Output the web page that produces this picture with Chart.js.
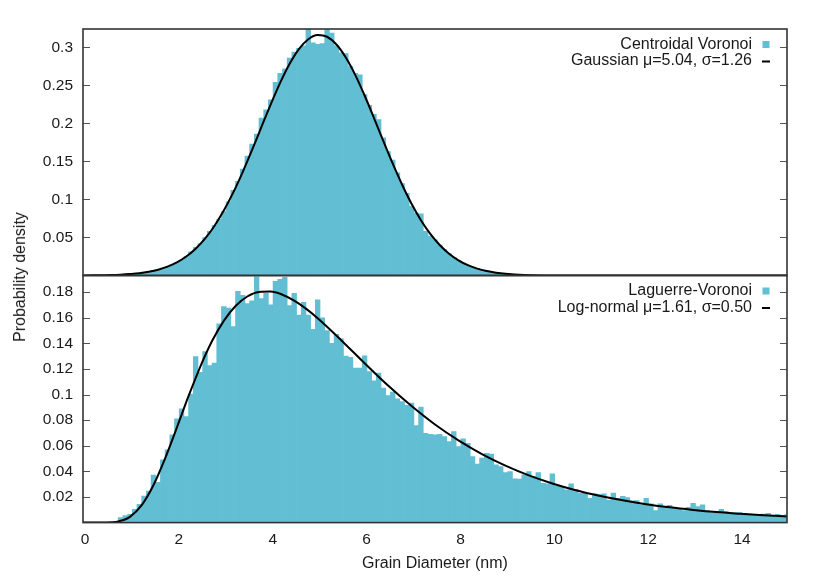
<!DOCTYPE html>
<html>
<head>
<meta charset="utf-8">
<script src="https://cdn.jsdelivr.net/npm/chart.js@4.4.1/dist/chart.umd.min.js"></script>
<style>
  body { margin: 0; background: #fff; }
  #wrap { position: relative; width: 830px; height: 581px; }
  canvas { position: absolute; left: 0; top: 0; }
  #ytitle {
    position: absolute; left: 20px; top: 277px;
    transform: translate(-50%, -50%) rotate(-90deg);
    font: 16px "Liberation Sans", Arial, sans-serif; color: #1a1a1a; white-space: nowrap;
  }
</style>
</head>
<body>
<div id="wrap">
  <canvas id="topChart" width="830" height="581"></canvas>
  <canvas id="bottomChart" width="830" height="581"></canvas>
  <div id="ytitle">Probability density</div>
</div>
<script>
// histogram bins are 0.1 nm wide, first bin centred on 0
const binWidth = 0.1;

// Centroidal Voronoi histogram, bins 0.0 .. 10.0
const centroidalHist = [
  0, 0, 0, 0, 0, 0.0003, 0.0004, 0.0005, 0.0008, 0.001, 0.0015,
  0.002, 0.003, 0.004, 0.005, 0.006, 0.007, 0.009, 0.011, 0.014, 0.017,
  0.020, 0.025, 0.031, 0.037, 0.042, 0.050, 0.058, 0.066, 0.074, 0.084,
  0.097, 0.112, 0.124, 0.140, 0.157, 0.173, 0.186, 0.207, 0.218, 0.231,
  0.254, 0.266, 0.272, 0.286, 0.294, 0.299, 0.302, 0.335, 0.306, 0.304,
  0.305, 0.334, 0.319, 0.302, 0.293, 0.292, 0.275, 0.266, 0.264, 0.238,
  0.224, 0.212, 0.205, 0.181, 0.163, 0.152, 0.135, 0.121, 0.108, 0.091,
  0.082, 0.081, 0.058, 0.052, 0.047, 0.040, 0.034, 0.029, 0.024, 0.020,
  0.0165, 0.0135, 0.011, 0.009, 0.007, 0.006, 0.0045, 0.0035, 0.003, 0.002,
  0.0018, 0.0014, 0.001, 0.0008, 0.0006, 0.0005, 0.0003, 0.0002, 0.0001, 0
];

// Laguerre-Voronoi histogram, bins 0.0 .. 15.0
const laguerreHist = [
  0, 0, 0, 0, 0, 0, 0.0005, 0.001, 0.004, 0.0054, 0.0065,
  0.0104, 0.0143, 0.0208, 0.0247, 0.0372, 0.0315, 0.049, 0.0568, 0.0685, 0.081,
  0.0889, 0.0829, 0.1003, 0.1297, 0.1173, 0.1336, 0.1227, 0.1245, 0.1553, 0.1688,
  0.1675, 0.1532, 0.1806, 0.1775, 0.171, 0.1733, 0.195, 0.175, 0.179, 0.170,
  0.1884, 0.190, 0.1915, 0.1696, 0.179, 0.162, 0.172, 0.162, 0.151, 0.174,
  0.160, 0.150, 0.140, 0.147, 0.1436, 0.130, 0.129, 0.1206, 0.1206, 0.1303,
  0.118, 0.1107, 0.1167, 0.105, 0.0993, 0.1019, 0.0967, 0.0946, 0.0915, 0.0933,
  0.0758, 0.0902, 0.0698, 0.069, 0.0685, 0.069, 0.0672, 0.0633, 0.0711, 0.0594,
  0.0654, 0.062, 0.0516, 0.0458, 0.0503, 0.0542, 0.0536, 0.0451, 0.0438, 0.0391,
  0.0399, 0.0341, 0.0339, 0.0373, 0.0399, 0.036, 0.0391, 0.0307, 0.0302, 0.038,
  0.0286, 0.0276, 0.0255, 0.0302, 0.026, 0.0229, 0.0229, 0.019, 0.0224, 0.022,
  0.0225, 0.0175, 0.023, 0.019, 0.0205, 0.0195, 0.017, 0.0172, 0.0138, 0.019,
  0.0146, 0.0094, 0.0146, 0.0125, 0.0135, 0.012, 0.0104, 0.0094, 0.012, 0.0151,
  0.0125, 0.0138, 0.0094, 0.0078, 0.0086, 0.0104, 0.0086, 0.0078, 0.0078, 0.0078,
  0.0072, 0.0067, 0.0062, 0.0062, 0.0067, 0.0072, 0.0057, 0.0065, 0.0057, 0.0062
];

// fitted curves
const gaussX = [0, 0.2, 0.4, 0.6, 0.8, 1.0, 1.2, 1.4, 1.6, 1.8, 2.0, 2.2, 2.4, 2.6, 2.8, 3.0,
  3.2, 3.4, 3.6, 3.8, 4.0, 4.2, 4.4, 4.6, 4.8, 5.0, 5.2, 5.4, 5.6, 5.8, 6.0, 6.2, 6.4,
  6.6, 6.8, 7.0, 7.2, 7.4, 7.6, 7.8, 8.0, 8.2, 8.4, 8.6, 8.8, 9.0, 9.4, 10, 11, 15];
const gaussY = [0.0001, 0.0002, 0.0004, 0.0006, 0.0011, 0.0019, 0.0030, 0.0049, 0.0076, 0.0116,
  0.0172, 0.0250, 0.0353, 0.0485, 0.0652, 0.0854, 0.1090, 0.1357, 0.1648, 0.1951, 0.2252,
  0.2535, 0.2783, 0.2979, 0.3109, 0.3164, 0.3141, 0.3039, 0.2868, 0.2640, 0.2368, 0.2072,
  0.1768, 0.1471, 0.1194, 0.0944, 0.0728, 0.0548, 0.0402, 0.0287, 0.0200, 0.0136, 0.0090,
  0.0058, 0.0037, 0.0023, 0.0008, 0.0001, 0, 0];

const lognX = [0, 0.25, 0.5, 0.75, 1.0, 1.25, 1.5, 1.75, 2.0, 2.25, 2.5, 2.75, 3.0, 3.25, 3.5,
  3.75, 4.0, 4.25, 4.5, 4.75, 5.0, 5.5, 6.0, 6.5, 7.0, 7.5, 8.0, 8.5, 9.0, 9.5, 10.0, 10.5,
  11.0, 11.5, 12.0, 12.5, 13.0, 13.5, 14.0, 14.5, 15.0];
const lognY = [0, 0, 0.00004, 0.0008, 0.0045, 0.0136, 0.0292, 0.0502, 0.0742, 0.0989, 0.1219,
  0.1418, 0.1576, 0.1692, 0.1766, 0.1802, 0.1805, 0.1780, 0.1734, 0.1671, 0.1596, 0.1425,
  0.1245, 0.1070, 0.0910, 0.0766, 0.0642, 0.0535, 0.0445, 0.0369, 0.0306, 0.0253, 0.0210,
  0.0174, 0.0144, 0.0119, 0.0099, 0.0082, 0.0069, 0.0057, 0.0048];

const xTicks = [0, 2, 4, 6, 8, 10, 12, 14];
const barColor = 'rgb(98, 190, 210)';
const FAMILY = '"Liberation Sans", Arial, sans-serif';
const TICK_FONT = { family: FAMILY, size: 15.5 };
const TITLE_FONT = { family: FAMILY, size: 16 };

const toPoints = (xs, ys) => ys.map((y, i) => ({ x: xs[i], y: y }));
const toBins = (hist) => hist.map((y, i) => ({ x: +(i * binWidth).toFixed(1), y: y }));

// gnuplot-ish frame, inward mirrored y ticks and key on the right
const framePlugin = {
  id: 'frame',
  afterDraw(chart, args, opts) {
    const { ctx, chartArea: a, scales } = chart;
    ctx.save();
    ctx.strokeStyle = '#555';
    ctx.lineWidth = 1;
    ctx.beginPath();
    scales.y.ticks.forEach(t => {
      if (t.value === 0) return;
      const py = Math.round(scales.y.getPixelForValue(t.value)) + 0.5;
      ctx.moveTo(a.left, py); ctx.lineTo(a.left + 7, py);
      ctx.moveTo(a.right, py); ctx.lineTo(a.right - 7, py);
    });
    ctx.stroke();
    ctx.strokeStyle = '#333';
    ctx.lineWidth = 1.6;
    ctx.strokeRect(a.left, a.top, a.width, a.height);

    ctx.font = '16px ' + FAMILY;
    ctx.textAlign = 'right';
    ctx.textBaseline = 'middle';
    chart.data.datasets.forEach((ds, i) => {
      const y = opts.rows[i];
      ctx.fillStyle = '#1a1a1a';
      ctx.fillText(ds.label, 752, y);
      if (ds.type === 'line') {
        ctx.strokeStyle = '#000';
        ctx.lineWidth = 2;
        ctx.beginPath();
        ctx.moveTo(762, y + 0.5); ctx.lineTo(770, y + 0.5);
        ctx.stroke();
      } else {
        ctx.fillStyle = barColor;
        ctx.fillRect(762.5, y - 3.5, 7, 7);
      }
    });
    ctx.restore();
  }
};

function makeChart(id, bars, barLabel, curve, curveLabel, yMax, yStep, pad, showX, rows) {
  return new Chart(document.getElementById(id).getContext('2d'), {
    type: 'bar',
    data: {
      datasets: [
        {
          label: barLabel,
          data: bars,
          backgroundColor: barColor,
          borderWidth: 0,
          barPercentage: 1,
          categoryPercentage: 1,
          order: 1
        },
        {
          type: 'line',
          label: curveLabel,
          data: curve,
          borderColor: '#000',
          borderWidth: 2,
          pointRadius: 0,
          cubicInterpolationMode: 'monotone',
          order: 0
        }
      ]
    },
    options: {
      responsive: false,
      animation: false,
      layout: { padding: pad },
      plugins: {
        legend: { display: false },
        tooltip: { enabled: false },
        frame: { rows: rows }
      },
      scales: {
        x: {
          type: 'linear',
          display: showX,
          min: 0,
          max: 15,
          offset: false,
          grid: { display: false, drawTicks: false },
          border: { display: false },
          afterBuildTicks: (s) => { s.ticks = xTicks.map(v => ({ value: v })); },
          afterFit: (s) => { if (showX) s.height = 58.4; },
          ticks: { font: TICK_FONT, color: '#1a1a1a', padding: 8, labelOffset: 2, maxRotation: 0 },
          title: {
            display: showX,
            text: 'Grain Diameter (nm)',
            font: TITLE_FONT,
            color: '#1a1a1a',
            padding: { top: 0, bottom: 8 }
          }
        },
        y: {
          min: 0,
          max: yMax,
          grid: { display: false, drawTicks: false },
          border: { display: false },
          afterFit: (s) => { s.width = 83; },
          ticks: {
            stepSize: yStep,
            includeBounds: false,
            font: TICK_FONT,
            color: '#1a1a1a',
            padding: 10,
            callback: (v) => (v === 0 ? '' : String(+v.toFixed(2)))
          }
        }
      }
    },
    plugins: [framePlugin]
  });
}

makeChart('topChart', toBins(centroidalHist), 'Centroidal Voronoi',
  toPoints(gaussX, gaussY), 'Gaussian \u03bc=5.04, \u03c3=1.26',
  0.3243, 0.05, { top: 29, bottom: 305.5, left: 0, right: 43 }, false, [44.5, 61]);

makeChart('bottomChart', toBins(laguerreHist), 'Laguerre-Voronoi',
  toPoints(lognX, lognY), 'Log-normal \u03bc=1.61, \u03c3=0.50',
  0.193, 0.02, { top: 275.5, bottom: 0, left: 0, right: 43 }, true, [291, 307.5]);
</script>
</body>
</html>
